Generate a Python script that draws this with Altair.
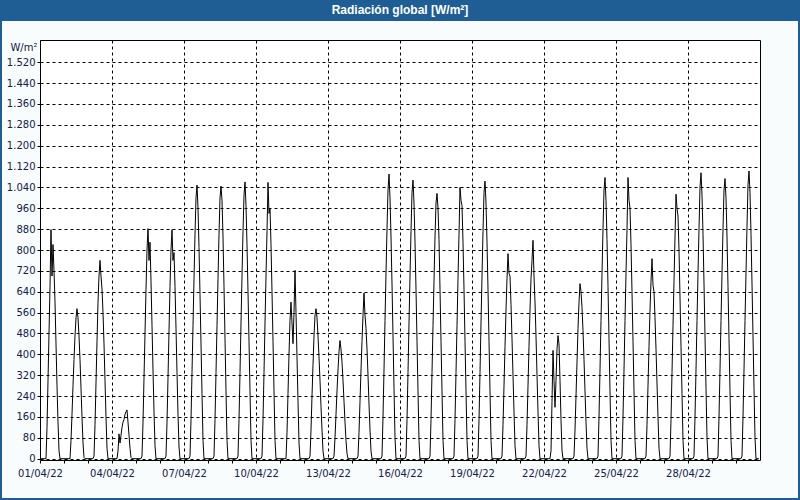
import altair as alt
import pandas as pd

# Hourly global radiation (W/m²), hours 05..20 UTC of each day; other hours are 0
HOURS = list(range(5, 21))
d01 = [0, 0, 120, 300, 480, 660, 878, 700, 821, 720, 600, 440, 280, 140, 30, 0]
d02 = [0, 0, 70, 170, 280, 380, 470, 540, 575, 540, 470, 380, 270, 160, 60, 5]
d03 = [0, 10, 130, 290, 450, 600, 700, 760, 700, 650, 560, 440, 300, 160, 40, 0]
d04 = [0, 30, 95, 60, 90, 120, 140, 150, 170, 180, 187, 140, 90, 40, 5, 0]
d05 = [0, 10, 140, 310, 480, 650, 800, 882, 760, 830, 680, 510, 340, 180, 50, 0]
d06 = [0, 10, 140, 310, 490, 660, 800, 878, 760, 790, 660, 500, 330, 170, 45, 0]
d07 = [0, 10, 150, 330, 510, 690, 860, 1000, 1049, 960, 810, 630, 440, 250, 70, 0]
d08 = [0, 10, 150, 330, 510, 690, 860, 1000, 1045, 990, 850, 660, 460, 260, 70, 0]
d09 = [0, 10, 150, 330, 520, 700, 870, 1010, 1061, 970, 820, 640, 450, 260, 70, 0]
d10 = [0, 10, 150, 330, 520, 700, 870, 1059, 940, 960, 820, 640, 450, 260, 70, 0]
d11 = [0, 0, 100, 250, 400, 530, 600, 520, 441, 560, 722, 560, 390, 220, 60, 0]
d12 = [0, 10, 110, 240, 360, 470, 550, 575, 540, 470, 390, 300, 200, 110, 30, 0]
d13 = [0, 10, 80, 170, 260, 340, 410, 453, 420, 370, 300, 220, 140, 70, 20, 0]
d14 = [0, 10, 100, 220, 340, 450, 550, 635, 550, 500, 420, 320, 210, 110, 30, 0]
d15 = [0, 10, 160, 340, 530, 710, 880, 1030, 1091, 1000, 850, 670, 470, 270, 80, 0]
d16 = [0, 10, 150, 330, 520, 700, 870, 1020, 1068, 980, 830, 650, 450, 260, 70, 0]
d17 = [0, 10, 150, 330, 510, 680, 850, 980, 1017, 960, 840, 650, 450, 260, 70, 0]
d18 = [0, 10, 150, 330, 510, 690, 860, 1040, 990, 970, 830, 650, 450, 260, 70, 0]
d19 = [0, 10, 150, 330, 520, 700, 870, 1020, 1064, 980, 830, 650, 450, 260, 70, 0]
d20 = [0, 10, 130, 280, 430, 570, 690, 786, 710, 700, 590, 460, 320, 180, 50, 0]
d21 = [0, 10, 130, 280, 430, 570, 690, 760, 837, 700, 600, 470, 320, 180, 50, 0]
d22 = [0, 0, 30, 220, 415, 300, 197, 300, 420, 472, 440, 300, 150, 30, 0, 0]
d23 = [0, 10, 110, 240, 370, 500, 600, 671, 640, 580, 490, 380, 260, 140, 40, 0]
d24 = [0, 10, 160, 340, 530, 710, 880, 1030, 1078, 990, 840, 660, 460, 260, 70, 0]
d25 = [0, 10, 160, 340, 530, 710, 880, 1078, 990, 960, 820, 640, 450, 260, 70, 0]
d26 = [0, 10, 130, 280, 430, 570, 680, 767, 665, 640, 540, 420, 290, 160, 40, 0]
d27 = [0, 10, 150, 330, 510, 680, 850, 1014, 960, 930, 800, 620, 430, 250, 70, 0]
d28 = [0, 10, 160, 340, 530, 710, 880, 1040, 1096, 1010, 860, 670, 470, 270, 80, 0]
d29 = [0, 10, 160, 340, 530, 710, 880, 1030, 1074, 1000, 850, 660, 460, 260, 70, 0]
d30 = [0, 10, 160, 340, 530, 710, 890, 1050, 1103, 1020, 860, 670, 470, 270, 80, 0]

days = [d01, d02, d03, d04, d05, d06, d07, d08, d09, d10,
        d11, d12, d13, d14, d15, d16, d17, d18, d19, d20,
        d21, d22, d23, d24, d25, d26, d27, d28, d29, d30]

rows = []
for di, prof in enumerate(days):
    for h in range(24):
        v = prof[HOURS.index(h)] if h in HOURS else 0
        rows.append({"t": di + h / 24.0, "v": v})
df = pd.DataFrame(rows)

BLUE = "#1F5E94"
TXT = "#10204A"
FONT = "DejaVu Sans"

line = alt.Chart(df).mark_line(color="black", strokeWidth=1).encode(
    x=alt.X("t:Q",
            scale=alt.Scale(domain=[0, 30], nice=False, zero=False),
            axis=alt.Axis(values=list(range(0, 30)),
                          labelExpr="datum.value % 3 == 0 ? ((datum.value + 1 < 10 ? '0' : '') + (datum.value + 1) + '/04/22') : ''",
                          labelOverlap=False, labelFlush=False,
                          grid=True, gridColor="black", gridDash=[3, 3],
                          gridOpacity={"condition": {"test": "datum.value % 3 == 0", "value": 1}, "value": 0},
                          tickSize=3, tickColor="black", domain=False,
                          labelFont=FONT, labelFontSize=10, labelColor=TXT,
                          labelPadding=5, title=None)),
    y=alt.Y("v:Q",
            scale=alt.Scale(domain=[-5, 1605], nice=False, zero=False),
            axis=alt.Axis(values=list(range(0, 1521, 80)),
                          labelExpr="replace(format(datum.value, ','), ',', '.')",
                          grid=True, gridColor="black", gridDash=[3, 3],
                          tickSize=3, tickColor="black", domain=False,
                          labelFont=FONT, labelFontSize=10, labelColor=TXT,
                          labelPadding=2,
                          title="W/m²", titleAngle=0, titleX=-3, titleY=7,
                          titleAlign="right", titleBaseline="middle",
                          titleFont=FONT, titleFontSize=10, titleFontWeight="normal",
                          titleColor=TXT)),
)

one = pd.DataFrame({"a": [0]})
bar = alt.Chart(one).mark_rect(color=BLUE).encode(
    x=alt.value(-40), x2=alt.value(760), y=alt.value(-40), y2=alt.value(-19))
border = alt.Chart(one).mark_rect(fillOpacity=0, stroke=BLUE, strokeWidth=2).encode(
    x=alt.value(-39), x2=alt.value(759), y=alt.value(-39), y2=alt.value(459))
title = alt.Chart(one).mark_text(text="Radiación global [W/m²]", color="white",
                                 font="Liberation Sans", fontWeight="bold", fontSize=12,
                                 baseline="middle", align="center").encode(
    x=alt.value(360), y=alt.value(-30))

chart = alt.layer(bar, border, title, line).properties(
    width=720, height=420,
    autosize=alt.AutoSizeParams(type="none"),
    padding={"left": 40, "top": 40, "right": 40, "bottom": 40},
    background="#F9FCFC",
).configure_view(stroke="black", strokeWidth=1, fill="white")

chart.save("out.html", embed_options={"renderer": "svg", "actions": False})
